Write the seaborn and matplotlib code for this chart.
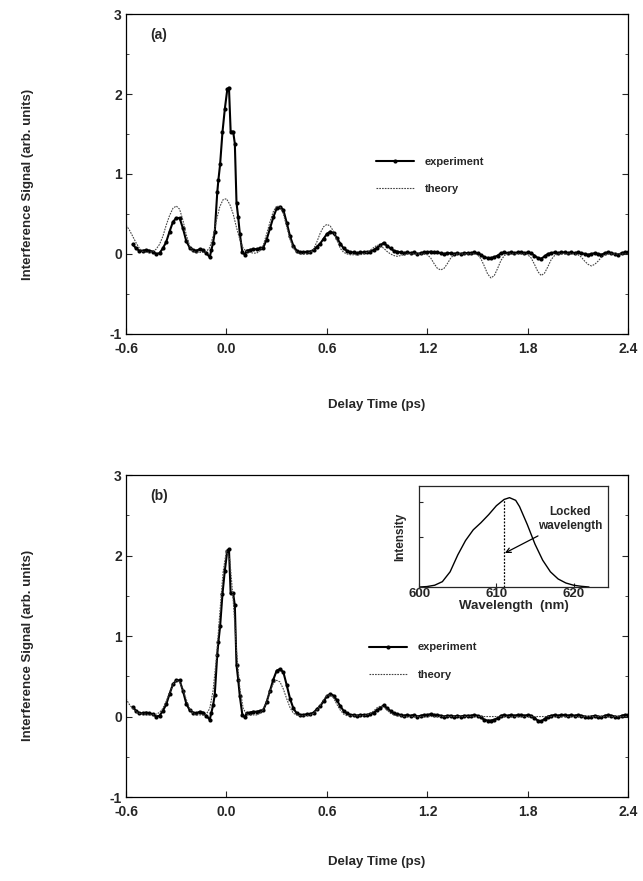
import numpy as np
import matplotlib
matplotlib.use("Agg")
import matplotlib.pyplot as plt
import seaborn as sns

# Measured interference signal (same trace in both panels)
exp_t = [-0.56, -0.54, -0.52, -0.50, -0.48, -0.46, -0.44, -0.42, -0.40, -0.38,
         -0.36, -0.34, -0.32, -0.30, -0.28, -0.26, -0.24, -0.22, -0.20, -0.18,
         -0.16, -0.14, -0.12, -0.10, -0.09, -0.08, -0.07, -0.055, -0.048, -0.038,
         -0.024, -0.01, 0.005, 0.015, 0.025, 0.04, 0.05, 0.06, 0.07, 0.08,
         0.095, 0.11, 0.12, 0.14, 0.16, 0.18, 0.20, 0.22, 0.24, 0.26,
         0.28, 0.30, 0.32, 0.34, 0.36, 0.38, 0.40, 0.42, 0.44, 0.46,
         0.48, 0.50, 0.52, 0.54, 0.56, 0.58, 0.60, 0.62, 0.64, 0.66,
         0.68, 0.70, 0.72, 0.74, 0.76, 0.78, 0.80, 0.82, 0.84, 0.86,
         0.88, 0.90, 0.92, 0.94, 0.96, 0.98, 1.00, 1.02, 1.04, 1.06,
         1.08, 1.10, 1.12, 1.14, 1.16, 1.18, 1.20, 1.22, 1.24, 1.26,
         1.28, 1.30, 1.32, 1.34, 1.36, 1.38, 1.40, 1.42, 1.44, 1.46,
         1.48, 1.50, 1.52, 1.54, 1.56, 1.58, 1.60, 1.62, 1.64, 1.66,
         1.68, 1.70, 1.72, 1.74, 1.76, 1.78, 1.80, 1.82, 1.84, 1.86,
         1.88, 1.90, 1.92, 1.94, 1.96, 1.98, 2.00, 2.02, 2.04, 2.06,
         2.08, 2.10, 2.12, 2.14, 2.16, 2.18, 2.20, 2.22, 2.24, 2.26,
         2.28, 2.30, 2.32, 2.34, 2.36, 2.38, 2.40]
exp_v = [0.12, 0.07, 0.04, 0.04, 0.05, 0.04, 0.03, 0.00, 0.01, 0.07,
         0.15, 0.28, 0.40, 0.45, 0.45, 0.32, 0.16, 0.08, 0.05, 0.04,
         0.06, 0.05, 0.01, -0.04, 0.05, 0.14, 0.27, 0.77, 0.93, 1.12,
         1.52, 1.81, 2.06, 2.08, 1.53, 1.53, 1.38, 0.64, 0.46, 0.25,
         0.02, -0.01, 0.04, 0.05, 0.06, 0.06, 0.07, 0.08, 0.18, 0.32,
         0.46, 0.57, 0.59, 0.55, 0.39, 0.22, 0.10, 0.04, 0.02, 0.02,
         0.03, 0.03, 0.05, 0.09, 0.13, 0.19, 0.25, 0.28, 0.26, 0.20,
         0.13, 0.07, 0.04, 0.02, 0.02, 0.01, 0.02, 0.02, 0.02, 0.03,
         0.05, 0.08, 0.11, 0.14, 0.10, 0.07, 0.04, 0.03, 0.02, 0.01,
         0.02, 0.01, 0.02, 0.00, 0.01, 0.02, 0.02, 0.03, 0.02, 0.02,
         0.01, 0.00, 0.01, 0.01, 0.00, 0.01, 0.00, 0.01, 0.01, 0.01,
         0.02, 0.01, -0.01, -0.04, -0.05, -0.05, -0.04, -0.02, 0.01, 0.02,
         0.01, 0.02, 0.01, 0.02, 0.02, 0.01, 0.02, 0.01, -0.02, -0.05,
         -0.06, -0.03, 0.00, 0.01, 0.02, 0.01, 0.02, 0.02, 0.01, 0.02,
         0.01, 0.02, 0.01, 0.00, -0.01, 0.00, 0.01, 0.00, -0.01, 0.01,
         0.02, 0.01, 0.00, -0.01, 0.01, 0.02, 0.02]

# Theory curves sampled every 0.02 ps from -0.60 to 2.40
theory_t = np.round(np.arange(-0.60, 2.401, 0.02), 2)
theory_a = [0.36, 0.30, 0.22, 0.14, 0.07, 0.03, 0.02, 0.02, 0.03, 0.06,
            0.12, 0.22, 0.36, 0.48, 0.57, 0.60, 0.56, 0.42, 0.24, 0.10,
            0.03, 0.02, 0.02, 0.02, 0.03, 0.08, 0.22, 0.42, 0.59, 0.68,
            0.69, 0.62, 0.50, 0.33, 0.18, 0.07, 0.03, 0.02, 0.01, 0.01,
            0.04, 0.11, 0.25, 0.40, 0.53, 0.60, 0.59, 0.50, 0.34, 0.18,
            0.07, 0.02, 0.00, 0.00, 0.00, 0.02, 0.06, 0.15, 0.26, 0.34,
            0.37, 0.35, 0.28, 0.17, 0.07, 0.02, 0.00, -0.01, -0.01, -0.01,
            -0.01, 0.00, 0.02, 0.05, 0.08, 0.11, 0.10, 0.07, 0.03, 0.00,
            -0.02, -0.03, -0.02, -0.01, 0.00, 0.00, 0.00, 0.00, 0.00, 0.00,
            -0.01, -0.05, -0.12, -0.18, -0.20, -0.18, -0.12, -0.05, -0.01, 0.00,
            0.00, 0.00, 0.00, 0.00, 0.00, -0.01, -0.06, -0.15, -0.25, -0.30,
            -0.27, -0.18, -0.08, -0.02, 0.00, 0.00, 0.00, 0.00, 0.00, 0.00,
            -0.01, -0.05, -0.13, -0.22, -0.27, -0.24, -0.16, -0.07, -0.02, 0.00,
            0.00, 0.00, 0.00, 0.00, 0.00, -0.01, -0.04, -0.09, -0.13, -0.15,
            -0.13, -0.09, -0.04, -0.01, 0.00, 0.00, 0.00, 0.00, 0.00, 0.00,
            0.00]
theory_b = [0.22, 0.15, 0.10, 0.06, 0.04, 0.03, 0.03, 0.02, 0.02, 0.03,
            0.05, 0.10, 0.19, 0.30, 0.40, 0.45, 0.43, 0.34, 0.21, 0.10,
            0.04, 0.02, 0.02, 0.02, 0.03, 0.10, 0.32, 0.73, 1.28, 1.80,
            2.06, 1.95, 1.45, 0.82, 0.35, 0.10, 0.03, 0.02, 0.02, 0.02,
            0.04, 0.09, 0.19, 0.31, 0.41, 0.45, 0.43, 0.34, 0.22, 0.11,
            0.04, 0.02, 0.01, 0.01, 0.01, 0.02, 0.04, 0.08, 0.14, 0.21,
            0.26, 0.27, 0.23, 0.15, 0.08, 0.03, 0.01, 0.01, 0.01, 0.01,
            0.01, 0.01, 0.02, 0.04, 0.07, 0.11, 0.13, 0.12, 0.08, 0.04,
            0.02, 0.01, 0.01, 0.00, 0.00, 0.00, 0.00, 0.00, 0.00, 0.00,
            0.00, 0.00, 0.00, 0.00, 0.00, 0.00, 0.00, 0.00, 0.00, 0.00,
            0.00, 0.00, 0.00, 0.00, 0.00, 0.00, 0.00, 0.00, 0.00, 0.00,
            0.00, 0.00, 0.00, 0.00, 0.00, 0.00, 0.00, 0.00, 0.00, 0.00,
            0.00, 0.00, 0.00, 0.00, 0.00, 0.00, 0.00, 0.00, 0.00, 0.00,
            0.00, 0.00, 0.00, 0.00, 0.00, 0.00, 0.00, 0.00, 0.00, 0.00,
            0.00, 0.00, 0.00, 0.00, 0.00, 0.00, 0.00, 0.00, 0.00, 0.00,
            0.00]

# Inset: laser spectrum
wl_nm = [600, 601, 602, 603, 604, 605, 606, 607, 608, 609, 610, 611,
         611.7, 612.5, 613, 614, 615, 616, 617, 618, 619, 620, 621, 622]
intensity = [0.00, 0.005, 0.02, 0.06, 0.17, 0.36, 0.52, 0.64, 0.72, 0.81, 0.91, 0.98,
             1.00, 0.97, 0.90, 0.70, 0.48, 0.30, 0.17, 0.09, 0.045, 0.02, 0.008, 0.0]
locked_nm = 611.0

xticks = [-0.6, 0.0, 0.6, 1.2, 1.8, 2.4]
xticklabels = ["-0.6", "0.0", "0.6", "1.2", "1.8", "2.4"]
yticks = [-1, 0, 1, 2, 3]
yticklabels = ["-1", "0", "1", "2", "3"]

sns.set_style("ticks")
plt.rcParams['font.family'] = ['Liberation Sans', 'DejaVu Sans']
plt.rcParams['font.weight'] = 'bold'

fig = plt.figure(figsize=(6.43, 8.81), dpi=100)
ax_a = fig.add_axes([0.196, 0.621, 0.781, 0.363])
ax_b = fig.add_axes([0.196, 0.0953, 0.781, 0.3655])

theory_style = dict(color="#444444", lw=0.8, linestyle=(0, (1.5, 1.0)))
exp_style = dict(color="black", lw=1.5, marker="o", markersize=3.0,
                 markeredgewidth=0, estimator=None, sort=False)

for ax, theo, tag in [(ax_a, theory_a, "(a)"), (ax_b, theory_b, "(b)")]:
    sns.lineplot(x=exp_t, y=exp_v, ax=ax, label="experiment", **exp_style)
    sns.lineplot(x=theory_t, y=theo, ax=ax, label="theory", estimator=None, **theory_style)
    ax.set_xlim(-0.6, 2.4)
    ax.set_ylim(-1, 3)
    ax.set_xticks(xticks)
    ax.set_xticklabels(xticklabels)
    ax.set_yticks(yticks)
    ax.set_yticklabels(yticklabels)
    ax.set_yticks([-0.5, 0.5, 1.5, 2.5], minor=True)
    ax.tick_params(axis="x", direction="in", length=4, width=0.8, labelsize=10, pad=6)
    ax.tick_params(axis="y", direction="in", length=4, width=0.8, labelsize=10,
                   right=True, pad=3)
    ax.tick_params(which="minor", direction="in", length=2, width=0.6, right=True)
    for sp in ax.spines.values():
        sp.set_visible(True)
        sp.set_linewidth(0.9)
        sp.set_color("black")
    for lab in ax.get_xticklabels() + ax.get_yticklabels():
        lab.set_fontweight("bold")
    ax.set_xlabel("")
    ax.set_ylabel("")
    ax.text(0.048, 0.935, tag, transform=ax.transAxes, fontsize=10,
            fontweight="bold", va="center", ha="left")

ax_a.legend(loc="upper left", bbox_to_anchor=(0.498, 0.552), frameon=False,
            fontsize=8, handlelength=3.4, handletextpad=1.0, labelspacing=1.5,
            borderpad=0, borderaxespad=0)
ax_b.legend(loc="upper left", bbox_to_anchor=(0.484, 0.480), frameon=False,
            fontsize=8, handlelength=3.4, handletextpad=1.0, labelspacing=1.6,
            borderpad=0, borderaxespad=0)

for y_lab, y_x in [(0.791, 0.540), (0.267, 0.0216)]:
    fig.text(0.044, y_lab, "Interference Signal (arb. units)", rotation=90,
             ha="center", va="center", fontsize=9.5, fontweight="bold")
    fig.text(0.586, y_x, "Delay Time (ps)", ha="center", va="center",
             fontsize=9.5, fontweight="bold")

# inset spectrum
ax_in = fig.add_axes([0.652, 0.3337, 0.294, 0.1146])
sns.lineplot(x=wl_nm, y=intensity, ax=ax_in, color="black", lw=1.0, estimator=None)
ax_in.plot([locked_nm, locked_nm], [0, 0.975], color="black", lw=0.9, linestyle=(0, (1.5, 1.2)))
ax_in.set_xlim(600, 624.5)
ax_in.set_ylim(0, 1.13)
ax_in.set_xticks([600, 610, 620])
ax_in.set_xticklabels(["600", "610", "620"])
ax_in.set_yticks([0.56, 0.95])
ax_in.set_yticklabels([])
ax_in.tick_params(direction="in", length=3, width=0.8, labelsize=9.5, pad=1)
for lab in ax_in.get_xticklabels():
    lab.set_fontweight("bold")
for sp in ax_in.spines.values():
    sp.set_visible(True)
    sp.set_linewidth(0.9)
ax_in.set_xlabel("Wavelength  (nm)", fontsize=9.5, fontweight="bold", labelpad=0)
ax_in.set_ylabel("Intensity", fontsize=8.5, fontweight="bold", labelpad=8)
ax_in.annotate("Locked\nwavelength", xy=(611.1, 0.38), xytext=(619.6, 0.76),
               ha="center", va="center", multialignment="center",
               fontsize=8.5, fontweight="bold",
               arrowprops=dict(arrowstyle="->", color="black", lw=0.9,
                               shrinkA=1, shrinkB=0))

fig.savefig("out.png", dpi=100)
